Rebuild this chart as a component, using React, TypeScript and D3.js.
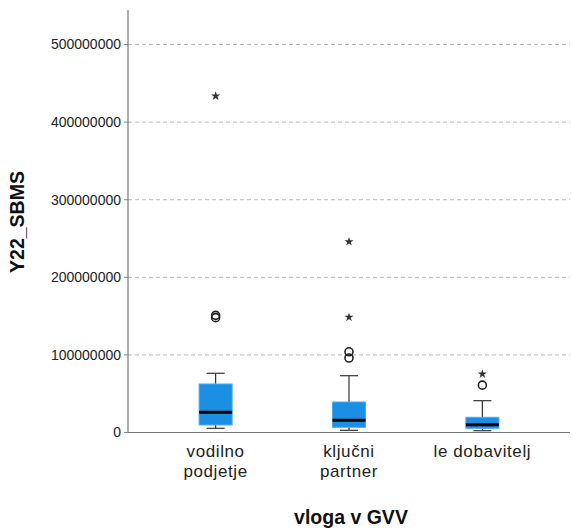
import React from "react";
import * as d3 from "d3";

// Box plot summary of Y22_SBMS by role in the value chain (GVV)
const categories = ["vodilno podjetje", "ključni partner", "le dobavitelj"];
const categoryLines = [["vodilno", "podjetje"], ["ključni", "partner"], ["le dobavitelj"]];
const whiskerLow = [5.4e6, 2.8e6, 2.3e6];
const q1 = [9.7e6, 6.7e6, 5.4e6];
const median = [26e6, 15.7e6, 10e6];
const q3 = [62.5e6, 39.3e6, 19.6e6];
const whiskerHigh = [76.3e6, 73.2e6, 41e6];
const outliers = [[148e6, 151e6], [96e6, 104e6], [61e6]];
const extremes = [[433.6e6], [148.5e6, 245.9e6], [75.4e6]];
const yTicks = [0, 100000000, 200000000, 300000000, 400000000, 500000000];

const W = 572;
const H = 529;
const left = 128;
const right = 570;
const top = 10;
const bottom = 432.5;

export default function App() {
  const x = d3.scalePoint<string>().domain(categories).range([left, right]).padding(0.657);
  const y = d3.scaleLinear().domain([0, 544.5e6]).range([bottom, top]);
  const boxW = 33;
  const capW = 18;
  const star = d3.symbol().type(d3.symbolStar).size(26)();
  const font = "'Liberation Sans', Arial, sans-serif";

  return (
    <svg width={W} height={H} style={{ position: "absolute", left: 0, top: 0 }}>
      <rect width={W} height={H} fill="#fff" />
      {yTicks.filter((t) => t > 0).map((t) => (
        <line key={"g" + t} x1={left} x2={right} y1={y(t)} y2={y(t)} stroke="#b8b8b8" strokeWidth={1} strokeDasharray="4,3" />
      ))}
      {yTicks.map((t) => (
        <g key={"t" + t}>
          <line x1={left - 4} x2={left} y1={y(t)} y2={y(t)} stroke="#888" />
          <text x={121} y={y(t)} dy="0.35em" textAnchor="end" fontFamily={font} fontSize={14} fill="#222">
            {String(t)}
          </text>
        </g>
      ))}
      <line x1={left} x2={left} y1={top} y2={bottom} stroke="#777" strokeWidth={1.2} />
      <line x1={left} x2={right} y1={bottom} y2={bottom} stroke="#777" strokeWidth={1.2} />

      {categories.map((c, i) => {
        const cx = x(c) as number;
        return (
          <g key={c}>
            <line x1={cx} x2={cx} y1={y(q3[i])} y2={y(whiskerHigh[i])} stroke="#333" strokeWidth={1.2} />
            <line x1={cx} x2={cx} y1={y(q1[i])} y2={y(whiskerLow[i])} stroke="#333" strokeWidth={1.2} />
            <line x1={cx - capW / 2} x2={cx + capW / 2} y1={y(whiskerHigh[i])} y2={y(whiskerHigh[i])} stroke="#333" strokeWidth={1.2} />
            <line x1={cx - capW / 2} x2={cx + capW / 2} y1={y(whiskerLow[i])} y2={y(whiskerLow[i])} stroke="#333" strokeWidth={1.2} />
            <rect x={cx - boxW / 2} y={y(q3[i])} width={boxW} height={y(q1[i]) - y(q3[i])} fill="#1a8fe4" stroke="#4aa8ee" strokeWidth={1} />
            <line x1={cx - boxW / 2} x2={cx + boxW / 2} y1={y(median[i])} y2={y(median[i])} stroke="#000" strokeWidth={3} />
            {outliers[i].map((v, k) => (
              <circle key={"o" + k} cx={cx} cy={y(v)} r={4} fill="none" stroke="#222" strokeWidth={1.6} />
            ))}
            {extremes[i].map((v, k) => (
              <path key={"e" + k} d={star as string} transform={`translate(${cx},${y(v)})`} fill="#333" />
            ))}
            {categoryLines[i].map((ln, k) => (
              <text key={"l" + k} x={cx} y={457 + k * 19.5} textAnchor="middle" fontFamily={font} fontSize={17} letterSpacing={0.6} fill="#222">
                {ln}
              </text>
            ))}
          </g>
        );
      })}

      <text x={(left + right) / 2 + 2} y={524} textAnchor="middle" fontFamily={font} fontSize={19.5} fontWeight="bold" fill="#111">
        vloga v GVV
      </text>
      <text transform={`translate(24,${222}) rotate(-90)`} textAnchor="middle" fontFamily={font} fontSize={19.5} fontWeight="bold" fill="#111">
        Y22_SBMS
      </text>
    </svg>
  );
}
